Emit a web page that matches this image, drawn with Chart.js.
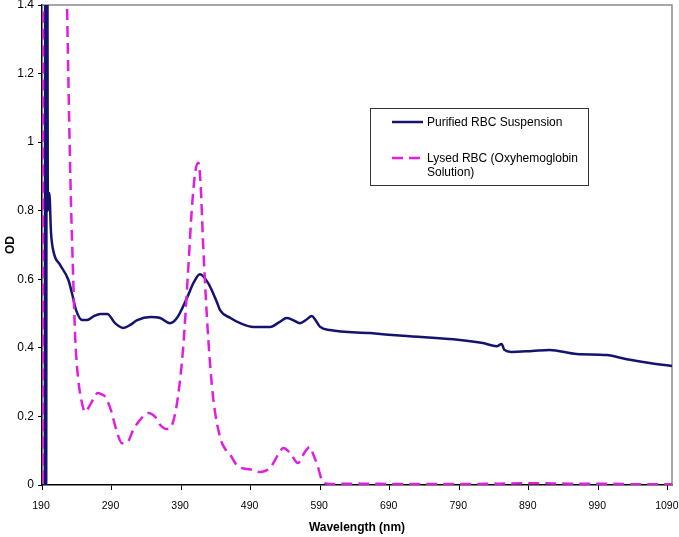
<!DOCTYPE html>
<html>
<head>
<meta charset="utf-8">
<script src="https://cdn.jsdelivr.net/npm/chart.js@4/dist/chart.umd.min.js"></script>
<style>
  body { margin: 0; background: #fff; }
  #wrap { width: 679px; height: 537px; }
</style>
</head>
<body>
<div id="wrap"><canvas id="spectrum-chart" width="679" height="537"></canvas></div>
<script>
// Purified RBC suspension (nm, OD)
const rbcWavelengths = [190, 194, 195, 196, 197, 198.5, 200.5, 203, 207, 216, 228, 233, 239, 248, 255, 264, 274, 284, 295, 307, 317, 327, 346, 360, 374, 384, 399, 408, 417, 429, 442, 446, 461, 475, 494, 518, 532, 542, 551, 561, 570, 578, 583, 590, 604, 662, 709, 791, 824, 844, 851, 855, 865, 895, 920, 959, 1002, 1031, 1064, 1096];
const rbcOD = [0, 0, 2.5, 0, 2.5, 0.8, 0.852, 0.735, 0.677, 0.642, 0.598, 0.56, 0.51, 0.481, 0.481, 0.492, 0.499, 0.499, 0.472, 0.458, 0.467, 0.481, 0.49, 0.487, 0.472, 0.487, 0.548, 0.59, 0.615, 0.589, 0.531, 0.51, 0.487, 0.472, 0.461, 0.461, 0.476, 0.487, 0.481, 0.472, 0.482, 0.493, 0.482, 0.461, 0.452, 0.443, 0.435, 0.423, 0.414, 0.405, 0.411, 0.394, 0.388, 0.391, 0.394, 0.382, 0.379, 0.367, 0.356, 0.347];

// Lysed RBC / oxyhemoglobin solution (nm, OD)
const lysedWavelengths = [190, 191, 192, 205, 218, 226, 231, 234, 238, 242, 248, 252, 259, 265, 270, 275, 281, 289, 297, 305, 313, 321, 331, 343, 353, 360, 370, 377, 385, 393, 400, 406, 411, 415, 418, 422, 429, 436, 446, 455, 461, 471, 490, 504, 518, 530, 537, 547, 558, 568, 575, 580, 586, 594, 604, 650, 700, 750, 800, 850, 900, 950, 1000, 1050, 1096];
const lysedOD = [1.13, 0, 3, 3.2, 2.4, 1.4, 0.88, 0.66, 0.42, 0.31, 0.235, 0.213, 0.233, 0.255, 0.268, 0.265, 0.257, 0.219, 0.16, 0.122, 0.125, 0.16, 0.19, 0.21, 0.198, 0.175, 0.163, 0.175, 0.25, 0.4, 0.62, 0.82, 0.92, 0.94, 0.88, 0.69, 0.43, 0.257, 0.14, 0.1, 0.087, 0.056, 0.045, 0.038, 0.05, 0.09, 0.108, 0.093, 0.064, 0.096, 0.111, 0.09, 0.058, 0.009, 0.003, 0.004, 0.003, 0.003, 0.003, 0.004, 0.005, 0.004, 0.004, 0.002, 0.002];

const xTicks = [190, 290, 390, 490, 590, 690, 790, 890, 990, 1090];
const yTicks = [0, 0.2, 0.4, 0.6, 0.8, 1, 1.2, 1.4];

const seriesNames = ['Purified RBC Suspension', 'Lysed RBC (Oxyhemoglobin Solution)'];

function toPoints(xs, ys) {
    return xs.map((x, i) => ({ x: x, y: ys[i] }));
}

const FONT = '"Liberation Sans", Arial, sans-serif';

// plot frame, Excel style: grey box with black axes
const framePlugin = {
    id: 'frame',
    beforeDatasetsDraw(chart) {
        const a = chart.chartArea;
        const c = chart.ctx;
        c.save();
        c.strokeStyle = '#8c8c8c';
        c.lineWidth = 1.5;
        c.beginPath();
        c.moveTo(a.left, a.top);
        c.lineTo(a.right, a.top);
        c.lineTo(a.right, a.bottom);
        c.stroke();
        c.restore();
    }
};

// boxed legend with wrapped second entry
const boxLegend = {
    id: 'boxLegend',
    afterDraw(chart) {
        const c = chart.ctx;
        const ds = chart.data.datasets;
        c.save();
        c.fillStyle = '#fff';
        c.fillRect(370, 108, 218, 77);
        c.strokeStyle = '#333';
        c.lineWidth = 1;
        c.strokeRect(370.5, 108.5, 218, 77);

        const rows = [
            { y: 122, lines: ['Purified RBC Suspension'] },
            { y: 158, lines: ['Lysed RBC (Oxyhemoglobin', 'Solution)'] }
        ];
        c.font = '12px ' + FONT;
        c.textBaseline = 'middle';
        rows.forEach((row, i) => {
            c.strokeStyle = ds[i].borderColor;
            c.lineWidth = ds[i].borderWidth;
            c.setLineDash(ds[i].borderDash || []);
            c.beginPath();
            c.moveTo(392, row.y);
            c.lineTo(423, row.y);
            c.stroke();
            c.setLineDash([]);
            c.fillStyle = '#000';
            row.lines.forEach((t, j) => c.fillText(t, 427, row.y + 1 + j * 13.5));
        });
        c.restore();
    }
};

const ctx = document.getElementById('spectrum-chart').getContext('2d');
new Chart(ctx, {
    type: 'line',
    data: {
        datasets: [{
            label: seriesNames[0],
            data: toPoints(rbcWavelengths, rbcOD),
            borderColor: '#14146e',
            borderWidth: 2.5,
            pointRadius: 0,
            cubicInterpolationMode: 'monotone',
            clip: 0,
            order: 2
        }, {
            label: seriesNames[1],
            data: toPoints(lysedWavelengths, lysedOD),
            borderColor: '#e01ee0',
            borderWidth: 2.5,
            borderDash: [11, 6],
            pointRadius: 0,
            cubicInterpolationMode: 'monotone',
            clip: 0,
            order: 1
        }]
    },
    options: {
        responsive: false,
        animation: false,
        events: [],
        layout: { padding: { top: 5, right: 7, left: 0, bottom: 0 } },
        plugins: {
            legend: { display: false },
            tooltip: { enabled: false }
        },
        scales: {
            x: {
                type: 'linear',
                min: 190,
                max: 1096,
                afterBuildTicks: function(scale) {
                    scale.ticks = xTicks.map(v => ({ value: v }));
                },
                afterFit: function(scale) {
                    scale.height = 52;
                    scale.paddingLeft = 0;
                    scale.paddingRight = 0;
                },
                grid: { drawOnChartArea: false, tickLength: 5, color: '#000' },
                border: { color: '#000', width: 1.5 },
                ticks: {
                    color: '#000',
                    font: { family: FONT, size: 10.5 },
                    padding: 10,
                    labelOffset: -1,
                    maxRotation: 0,
                    autoSkip: false,
                    callback: v => String(v)
                },
                title: {
                    display: true,
                    text: 'Wavelength (nm)',
                    color: '#000',
                    font: { family: FONT, size: 12, weight: 'bold' },
                    padding: { top: 0, bottom: 2 }
                }
            },
            y: {
                min: 0,
                max: 1.4,
                afterBuildTicks: function(scale) {
                    scale.ticks = yTicks.map(v => ({ value: v }));
                },
                afterFit: function(scale) {
                    scale.width = 42;
                    scale.paddingTop = 0;
                    scale.paddingBottom = 0;
                },
                grid: { drawOnChartArea: false, tickLength: 4, color: '#000' },
                border: { color: '#000', width: 1.5 },
                ticks: {
                    color: '#000',
                    font: { family: FONT, size: 12 },
                    padding: 4,
                    callback: v => String(+v.toFixed(1))
                },
                title: {
                    display: true,
                    text: 'OD',
                    color: '#000',
                    font: { family: FONT, size: 12, weight: 'bold' },
                    padding: { top: 3, bottom: 0 }
                }
            }
        }
    },
    plugins: [framePlugin, boxLegend]
});
</script>
</body>
</html>
